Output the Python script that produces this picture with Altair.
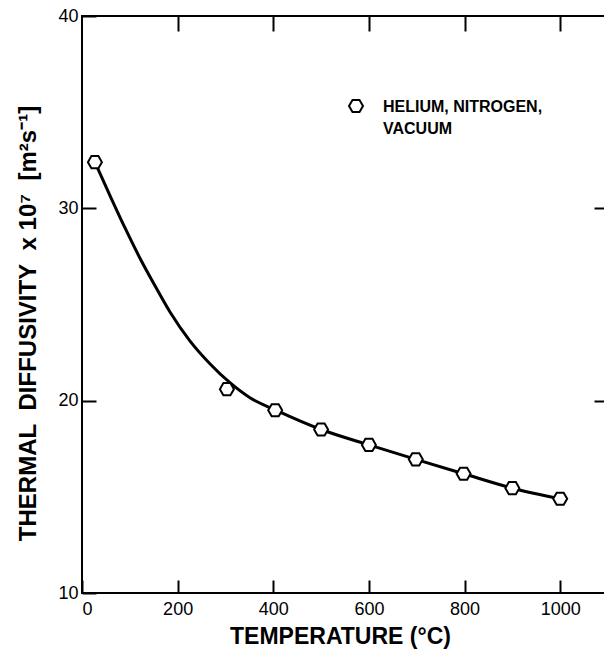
import altair as alt
import pandas as pd

# Measured points (temperature in °C, thermal diffusivity x 10^7 m^2/s)
temp_pts = [27, 303, 404, 500, 600, 698, 798, 900, 1000]
diff_pts = [32.4, 20.6, 19.5, 18.5, 17.7, 16.95, 16.2, 15.45, 14.9]

# Smooth fitted curve
curve_T = [27, 59, 90, 121, 153, 184, 226, 268, 310, 352, 404, 500, 600, 698, 798, 900, 1000]
curve_D = [32.4, 30.64, 28.98, 27.42, 25.96, 24.61, 23.1, 21.91, 20.92, 20.14, 19.52,
           18.5, 17.7, 16.95, 16.2, 15.45, 14.9]

series_name = "HELIUM, NITROGEN, VACUUM"
legend_lines = ["HELIUM, NITROGEN,", "VACUUM"]

x_ticks = [0, 200, 400, 600, 800, 1000]
x_top_ticks = [200, 400, 600, 800, 1000]
y_ticks = [10, 20, 30, 40]
y_right_ticks = [20, 30]

pts_df = pd.DataFrame({"T": temp_pts, "D": diff_pts, "series": [series_name] * len(temp_pts)})
curve_df = pd.DataFrame({"T": curve_T, "D": curve_D})

HEX = "M1,0L0.5,0.866L-0.5,0.866L-1,0L-0.5,-0.866L0.5,-0.866Z"
sh = -0.143
HEX_LEG = (f"M1,{sh}L0.5,{0.866+sh:.3f}L-0.5,{0.866+sh:.3f}L-1,{sh}"
           f"L-0.5,{-0.866+sh:.3f}L0.5,{-0.866+sh:.3f}Z")

FONT = "Liberation Sans"
NB = "\u00a0"
Y_TITLE = f"THERMAL{NB} DIFFUSIVITY{NB} x 10⁷{NB} [m²s⁻¹]"
xscale = alt.Scale(domain=[0, 1100], nice=False, zero=False)
yscale = alt.Scale(domain=[10, 40], nice=False, zero=False)

line = alt.Chart(curve_df).mark_line(color="black", strokeWidth=3, interpolate="monotone").encode(
    x=alt.X("T:Q", scale=xscale, axis=alt.Axis(
        orient="bottom", values=x_ticks, format="d", offset=-13, tickSize=13, tickWidth=2,
        tickColor="black", domain=False, grid=False, labelFont=FONT, labelFontSize=18,
        labelColor="black", labelPadding=7, title="TEMPERATURE (°C)", titleFont=FONT,
        titleFontSize=23, titleFontWeight="bold", titleColor="black", titleX=258, titleY=56,
        titleBaseline="middle", titleAlign="center")),
    y=alt.Y("D:Q", scale=yscale, axis=alt.Axis(
        orient="left", values=y_ticks, format="d", offset=-14, tickSize=14, tickWidth=2,
        tickColor="black", domain=False, grid=False, labelFont=FONT, labelFontSize=18,
        labelColor="black", labelPadding=4,
        title=Y_TITLE, titleFont=FONT, titleFontSize=24,
        titleFontWeight="bold", titleColor="black", titleX=-68, titleY=307, titleAngle=270,
        titleBaseline="middle", titleAlign="center")),
)

points = alt.Chart(pts_df).mark_point(
    shape=HEX, size=196, filled=False, fill="white", fillOpacity=1, strokeWidth=2, opacity=1
).encode(
    x=alt.X("T:Q", scale=xscale, axis=alt.Axis(
        orient="top", values=x_top_ticks, offset=-15, tickSize=15, tickWidth=2,
        tickColor="black", domain=False, grid=False, labels=False, title=None)),
    y=alt.Y("D:Q", scale=yscale, axis=alt.Axis(
        orient="right", values=y_right_ticks, offset=-14, tickSize=14, tickWidth=2,
        tickColor="black", domain=False, grid=False, labels=False, title=None)),
    color=alt.Color("series:N", scale=alt.Scale(range=["black"]), legend=alt.Legend(
        orient="none", legendX=266, legendY=83, title=None, padding=0,
        labelExpr=str(legend_lines), labelFont=FONT, labelFontSize=16,
        labelFontWeight="bold", labelColor="black", labelLimit=0, labelOffset=19,
        symbolType=HEX_LEG, symbolSize=196, symbolStrokeWidth=2,
        symbolFillColor="white", symbolStrokeColor="black")),
)

chart = alt.layer(line, points).resolve_axis(x="independent", y="independent").properties(
    width=526, height=577,
    padding={"left": 82, "top": 16, "right": -4, "bottom": 63},
    autosize=alt.AutoSizeParams(type="none"),
    background="white",
).configure(style={"guide-label": {"lineHeight": 22}}).configure_view(stroke="black", strokeWidth=2)

chart.save("out.html", embed_options={"renderer": "svg", "actions": False})
